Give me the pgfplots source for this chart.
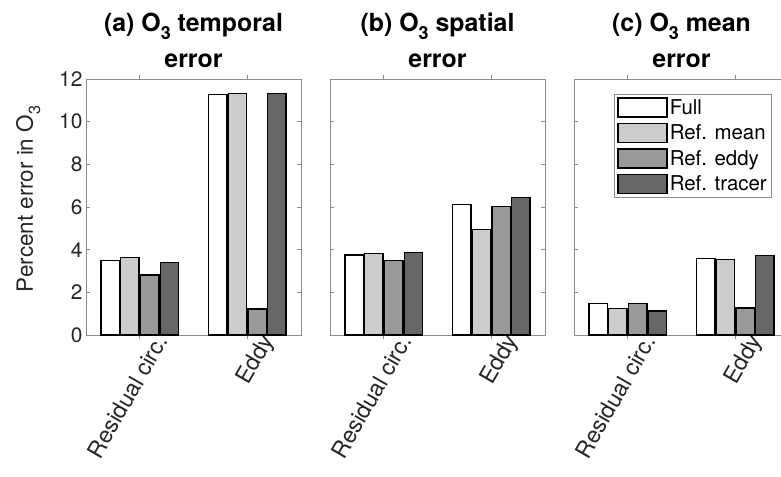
\documentclass[border=0pt]{standalone}
\usepackage{fontspec}
\setmainfont{TeX Gyre Heros}
\usepackage{pgfplots}
\pgfplotsset{compat=1.18}
\definecolor{cfull}{gray}{1}
\definecolor{cmean}{gray}{0.8}
\definecolor{ceddy}{gray}{0.6}
\definecolor{ctracer}{gray}{0.4}
\definecolor{axgray}{gray}{0.55}
\definecolor{txt}{gray}{0.15}
\newcommand\sub[1]{\raisebox{-0.32em}{\scalebox{0.72}{#1}}}
\pgfplotsset{panel/.style={
  scale only axis, width=215bp, height=256bp, anchor=north west,
  xmin=0.5, xmax=2.5, ymin=0, ymax=12,
  xtick={1,2}, xticklabels={Residual circ., Eddy},
  ytick={0,2,...,12},
  tick align=inside, tick pos=both, major tick length=4bp,
  axis line style={axgray, line width=0.6bp},
  tick style={axgray, line width=0.6bp},
  ybar=1.4bp, bar width=18.35bp,
  every axis plot/.append style={draw=black, line width=1.4bp},
  ticklabel style={font=\fontsize{21}{24}\selectfont, text=txt},
  /pgf/number format/assume math mode=true,
  xticklabel style={font=\fontsize{23}{26}\selectfont, rotate=60, anchor=east, xshift=16bp, yshift=-18bp},
  title style={font=\fontsize{25}{36}\selectfont\bfseries, align=center, anchor=south, at={(0.5,1)}, yshift=5bp, inner sep=0pt},
  legend image code/.code={\draw[#1, line width=1.4bp] (0bp,-9.5bp) rectangle (49bp,9.5bp);},
}}
\begin{document}
\begin{tikzpicture}
\useasboundingbox (0,0) rectangle (781bp,-477bp);
\clip (0,0) rectangle (781bp,-477bp);
\begin{axis}[panel, at={(86bp,-79bp)},
  title={(a) O\sub{3} temporal\\error},
  ylabel={Percent error in O\sub{3}},
  ylabel style={font=\fontsize{22.5}{26}\selectfont, text=txt, xshift=8bp, yshift=12bp}]
\addplot[fill=cfull] coordinates {(1,3.48) (2,11.28)};
\addplot[fill=cmean] coordinates {(1,3.64) (2,11.33)};
\addplot[fill=ceddy] coordinates {(1,2.81) (2,1.22)};
\addplot[fill=ctracer] coordinates {(1,3.39) (2,11.33)};
\end{axis}
\begin{axis}[panel, at={(330bp,-79bp)}, yticklabels={},
  title={(b) O\sub{3} spatial\\error}]
\addplot[fill=cfull] coordinates {(1,3.75) (2,6.11)};
\addplot[fill=cmean] coordinates {(1,3.81) (2,4.95)};
\addplot[fill=ceddy] coordinates {(1,3.50) (2,6.03)};
\addplot[fill=ctracer] coordinates {(1,3.88) (2,6.45)};
\end{axis}
\begin{axis}[panel, at={(574bp,-79bp)}, yticklabels={},
  title={(c) O\sub{3} mean\\error},
  legend style={at={(0.921,0.941)}, anchor=north east, draw=axgray, line width=0.6bp,
    font=\fontsize{20.5}{20.5}\selectfont, text=black, cells={anchor=west}, row sep=5bp, inner sep=3bp},
  legend cell align=left]
\addplot[fill=cfull] coordinates {(1,1.47) (2,3.59)};
\addplot[fill=cmean] coordinates {(1,1.25) (2,3.53)};
\addplot[fill=ceddy] coordinates {(1,1.47) (2,1.27)};
\addplot[fill=ctracer] coordinates {(1,1.12) (2,3.73)};
\legend{Full, Ref. mean, Ref. eddy, Ref. tracer}
\end{axis}
\end{tikzpicture}
\end{document}
